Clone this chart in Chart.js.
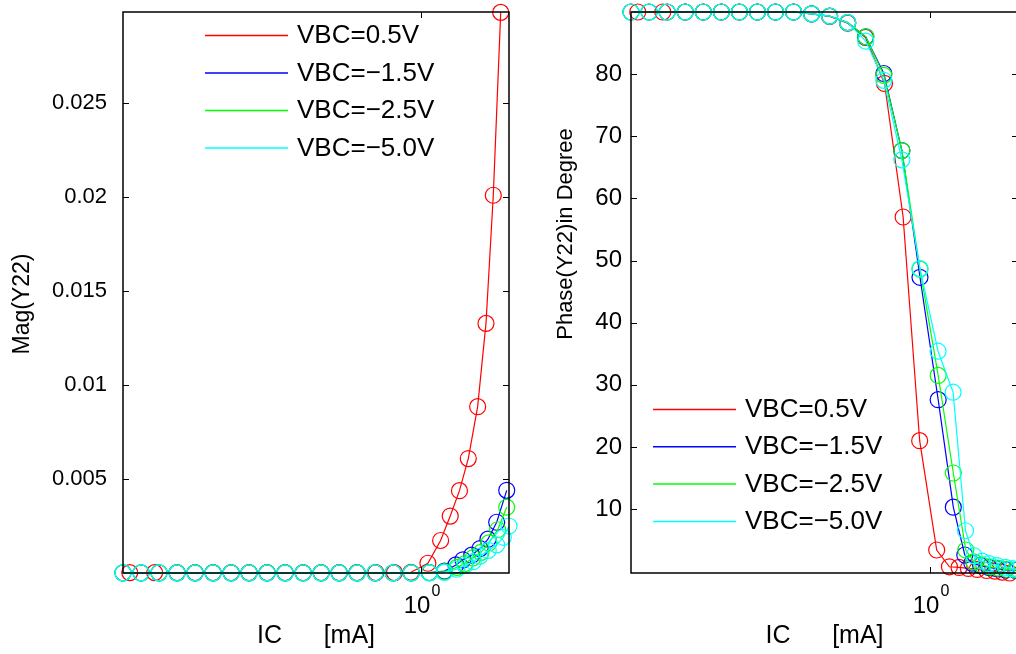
<!DOCTYPE html>
<html>
<head>
<meta charset="utf-8">
<script src="https://cdn.jsdelivr.net/npm/chart.js@4.4.1/dist/chart.umd.min.js"></script>
<style>
    html, body { margin: 0; padding: 0; background: #fff; width: 1016px; height: 654px; overflow: hidden; }
    #magBox { position: absolute; left: 0; top: 0; }
    #phaseBox { position: absolute; left: 530px; top: 0; }
</style>
</head>
<body>
<div id="magBox"><canvas id="magChart" width="530" height="654"></canvas></div>
<div id="phaseBox"><canvas id="phaseChart" width="510" height="654"></canvas></div>
<script>
// ── Dados (IC em mA) ──
const seriesLabels = ['VBC=0.5V', 'VBC=\u22121.5V', 'VBC=\u22122.5V', 'VBC=\u22125.0V'];
const seriesColors = ['#ff0000', '#0000ff', '#00ff00', '#00ffff'];

const icRed   = [0.1072, 0.1298, 0.1541, 0.1769, 0.2031, 0.2332, 0.2677, 0.3074, 0.3529, 0.4052, 0.4652, 0.5341, 0.6118, 0.7079, 0.8161, 0.9262,
                 1.055, 1.163, 1.252, 1.344, 1.438, 1.545, 1.647, 1.742, 1.844];
const icBlue  = [0.1018, 0.1169, 0.1342, 0.1541, 0.1769, 0.2031, 0.2332, 0.2677, 0.3074, 0.3529, 0.4052, 0.4652, 0.5341, 0.6132, 0.7041, 0.8084, 0.9284,
                 1.067, 1.198, 1.308, 1.380, 1.476, 1.573, 1.672, 1.788, 1.931];
const icGreen = [0.1018, 0.1169, 0.1342, 0.1541, 0.1769, 0.2031, 0.2332, 0.2677, 0.3074, 0.3529, 0.4052, 0.4652, 0.5341, 0.6132, 0.7041, 0.8084, 0.9284,
                 1.067, 1.198, 1.318, 1.402, 1.489, 1.585, 1.683, 1.801, 1.931];
const icCyan  = [0.1018, 0.1169, 0.1342, 0.1541, 0.1769, 0.2031, 0.2332, 0.2677, 0.3074, 0.3529, 0.4052, 0.4652, 0.5341, 0.6132, 0.7041, 0.8084, 0.9284,
                 1.066, 1.196, 1.315, 1.402, 1.494, 1.573, 1.676, 1.788, 1.881, 1.965];

const magRed   = [0.00002, 0.00002, 0.00002, 0.00002, 0.00002, 0.00002, 0.00002, 0.00002, 0.00002, 0.00002, 0.00002, 0.00002, 0.00002, 0.00002, 0.00002, 0.00004,
                  0.00052, 0.00173, 0.00303, 0.00438, 0.00609, 0.00885, 0.01328, 0.0201, 0.02983];
const magBlue  = [0.00001, 0.00001, 0.00001, 0.00001, 0.00001, 0.00001, 0.00001, 0.00001, 0.00001, 0.00001, 0.00001, 0.00001, 0.00001, 0.00001, 0.00001, 0.00001, 0.00001,
                  0.00002, 0.0001, 0.00043, 0.0007, 0.00095, 0.0013, 0.0018, 0.0027, 0.0044];
const magGreen = [0.00001, 0.00001, 0.00001, 0.00001, 0.00001, 0.00001, 0.00001, 0.00001, 0.00001, 0.00001, 0.00001, 0.00001, 0.00001, 0.00001, 0.00001, 0.00001, 0.00001,
                  0.00002, 0.00008, 0.0003, 0.0005, 0.0008, 0.0011, 0.0016, 0.0023, 0.0035];
const magCyan  = [0.00001, 0.00001, 0.00001, 0.00001, 0.00001, 0.00001, 0.00001, 0.00001, 0.00001, 0.00001, 0.00001, 0.00001, 0.00001, 0.00001, 0.00001, 0.00001, 0.00001,
                  0.00001, 0.00003, 0.0002, 0.0004, 0.0006, 0.0009, 0.0012, 0.0015, 0.0019, 0.0025];

const phaseRed   = [90, 90, 90, 90, 90, 90, 90, 90, 90, 89.7, 89.3, 88.2, 85.9, 78.5, 57.0, 21.0,
                    3.4, 0.7, 0.6, 0.43, 0.27, 0.1, 0, -0.15, -0.3];
const phaseBlue  = [90, 90, 90, 90, 90, 90, 90, 90, 90, 90, 89.7, 89.35, 88.3, 86.0, 80.1, 67.7, 47.3,
                    27.6, 10.3, 2.6, 1.3, 0.9, 0.6, 0.4, 0.2, 0.1];
const phaseGreen = [90, 90, 90, 90, 90, 90, 90, 90, 90, 90, 89.7, 89.35, 88.3, 86.0, 79.8, 67.7, 48.6,
                    31.5, 15.8, 3.4, 1.5, 1.0, 0.7, 0.5, 0.3, 0.2];
const phaseCyan  = [90, 90, 90, 90, 90, 90, 90, 90, 90, 90, 89.7, 89.35, 88.3, 85.3, 79.0, 66.2, 48.7,
                    35.4, 28.8, 6.5, 2.5, 1.6, 1.2, 0.9, 0.6, 0.4, 0.3];

const xTickValues = [1];
const magTicks = [0.005, 0.01, 0.015, 0.02, 0.025];
const phaseTicks = [10, 20, 30, 40, 50, 60, 70, 80];

const icSeries = [icRed, icBlue, icGreen, icCyan];
const magSeries = [magRed, magBlue, magGreen, magCyan];
const phaseSeries = [phaseRed, phaseBlue, phaseGreen, phaseCyan];

function buildDatasets(ySeries) {
    return ySeries.map((ys, i) => ({
        label: seriesLabels[i],
        data: ys.map((v, j) => ({ x: icSeries[i][j], y: v })),
        borderColor: seriesColors[i],
        backgroundColor: 'transparent',
        borderWidth: 1.2,
        pointStyle: 'circle',
        pointRadius: 8,
        pointBorderWidth: 1.2,
        pointBackgroundColor: 'transparent',
        pointBorderColor: seriesColors[i],
        showLine: true,
        tension: 0,
        clip: false,
        order: 4 - i
    }));
}

// ── Moldura estilo MATLAB, rótulos e legenda ──
const FONT = '"Liberation Sans", Arial, Helvetica, sans-serif';
const matlabFrame = {
    id: 'matlabFrame',
    afterDraw(chart, args, opts) {
        const { ctx, chartArea: a, scales: { x, y } } = chart;
        const line = (x1, y1, x2, y2) => { ctx.beginPath(); ctx.moveTo(x1, y1); ctx.lineTo(x2, y2); ctx.stroke(); };
        ctx.save();
        ctx.strokeStyle = '#000';
        ctx.lineWidth = 1.5;
        ctx.strokeRect(a.left, a.top, a.right - a.left, a.bottom - a.top);
        ctx.lineWidth = 1;
        y.ticks.forEach(t => {
            const py = Math.round(y.getPixelForValue(t.value)) + 0.5;
            line(a.left, py, a.left + 6, py);
            line(a.right, py, a.right - 6, py);
        });
        x.ticks.forEach(t => {
            const px = Math.round(x.getPixelForValue(t.value)) + 0.5;
            line(px, a.bottom, px, a.bottom - 6);
            line(px, a.top, px, a.top + 6);
            // rótulo 10^0
            const exp = Math.round(Math.log10(t.value));
            ctx.fillStyle = '#000';
            ctx.textBaseline = 'alphabetic';
            ctx.font = '24px ' + FONT;
            const wBase = ctx.measureText('10').width;
            ctx.font = '16px ' + FONT;
            const wExp = ctx.measureText(String(exp)).width;
            const left = px - (wBase + wExp) / 2;
            ctx.font = '24px ' + FONT;
            ctx.textAlign = 'left';
            ctx.fillText('10', left, 613);
            ctx.font = '16px ' + FONT;
            ctx.fillText(String(exp), left + wBase + 1, 596);
        });
        // títulos
        ctx.fillStyle = '#000';
        ctx.textAlign = 'center';
        ctx.textBaseline = 'middle';
        ctx.font = '25px ' + FONT;
        ctx.fillText(opts.xTitle, (a.left + a.right) / 2, 636);
        ctx.save();
        ctx.translate(opts.yTitleX, opts.yTitleY);
        ctx.rotate(-Math.PI / 2);
        ctx.font = opts.yTitleFont + 'px ' + FONT;
        ctx.fillText(opts.yTitle, 0, 0);
        ctx.restore();
        // legenda
        const lg = opts.legend;
        ctx.font = '26px ' + FONT;
        ctx.textAlign = 'left';
        chart.data.datasets.forEach((ds, i) => {
            const ly = lg.y0 + i * lg.dy;
            ctx.strokeStyle = ds.borderColor;
            ctx.lineWidth = 1.5;
            line(lg.x0, ly + 0.5, lg.x1, ly + 0.5);
            ctx.fillStyle = '#000';
            ctx.fillText(ds.label, lg.tx, ly + 1);
        });
        ctx.restore();
    }
};

function makeChart(canvasId, ySeries, yMin, yMax, yTickValues, layoutPad, yAxisWidth, tickFont, tickPad, frameOpts) {
    return new Chart(document.getElementById(canvasId), {
        type: 'scatter',
        data: { datasets: buildDatasets(ySeries) },
        options: {
            responsive: false,
            animation: false,
            layout: { padding: layoutPad },
            plugins: { legend: { display: false }, tooltip: { enabled: false }, matlabFrame: frameOpts },
            scales: {
                x: {
                    type: 'logarithmic',
                    min: 0.1018,
                    max: 1.965,
                    grid: { display: false },
                    border: { display: false },
                    ticks: { display: false },
                    afterBuildTicks: s => { s.ticks = xTickValues.map(v => ({ value: v })); },
                    afterFit: s => { s.height = 81; s.paddingLeft = 0; s.paddingRight = 0; }
                },
                y: {
                    type: 'linear',
                    min: yMin,
                    max: yMax,
                    grid: { display: false, drawTicks: false },
                    border: { display: false },
                    ticks: {
                        color: '#000',
                        padding: tickPad,
                        font: { family: FONT, size: tickFont },
                        callback: v => String(+v.toFixed(3))
                    },
                    afterBuildTicks: s => { s.ticks = yTickValues.map(v => ({ value: v })); },
                    afterFit: s => { s.width = yAxisWidth; s.paddingTop = 0; s.paddingBottom = 0; }
                }
            }
        },
        plugins: [matlabFrame]
    });
}

// Magnitude
makeChart('magChart', magSeries, 0, 0.02985, magTicks,
    { left: 0, right: 21, top: 12, bottom: 0 }, 123, 22, 16,
    { xTitle: 'IC      [mA]', yTitle: 'Mag(Y22)', yTitleX: 23, yTitleY: 304, yTitleFont: 23,
      legend: { x0: 205, x1: 288, tx: 297, y0: 35, dy: 37.5 } });

// Fase
makeChart('phaseChart', phaseSeries, -0.3, 90, phaseTicks,
    { left: 0, right: 22, top: 12, bottom: 0 }, 101, 24, 9,
    { xTitle: 'IC      [mA]', yTitle: 'Phase(Y22)in Degree', yTitleX: 36, yTitleY: 234, yTitleFont: 22,
      legend: { x0: 123, x1: 206, tx: 215, y0: 409, dy: 37.3 } });
</script>
</body>
</html>
